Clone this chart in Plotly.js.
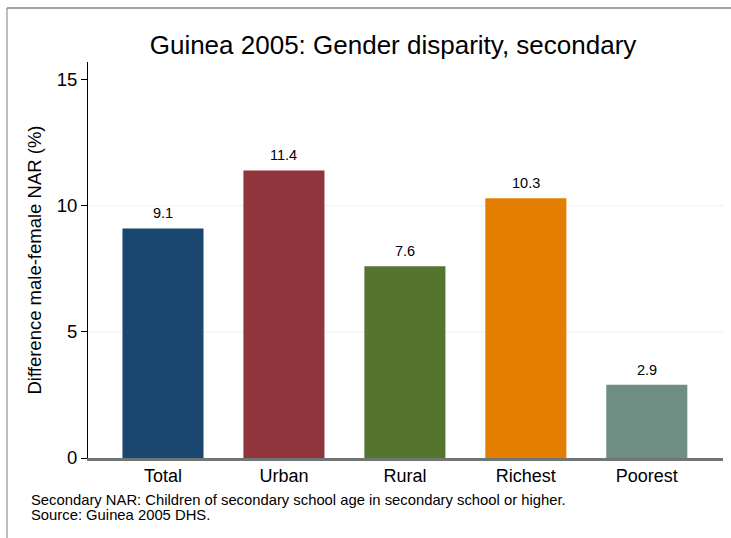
<!DOCTYPE html>
<html>
<head>
<meta charset="utf-8">
<script src="https://cdn.plot.ly/plotly-3.0.1.min.js"></script>
<style>html,body{margin:0;padding:0;background:#fff;}#chart{width:731px;height:538px;}</style>
</head>
<body>
<div id="chart"></div>
<script>
// Data
const categories = ["Total", "Urban", "Rural", "Richest", "Poorest"];
const values = [9.1, 11.4, 7.6, 10.3, 2.9];
const barColors = ["#1a476f", "#90353b", "#55752f", "#e37e00", "#6e8e84"];
const yTicks = [0, 5, 10, 15];
const gridVals = [5, 10];
const titleText = "Guinea 2005: Gender disparity, secondary";
const yTitleText = "Difference male-female NAR (%)";
const noteLines = ["Secondary NAR: Children of secondary school age in secondary school or higher.", "Source: Guinea 2005 DHS."];

const FONT = "Liberation Sans, Arial, Helvetica, sans-serif";
const xIdx = categories.map((c, i) => i);

const trace = {
  type: "bar",
  x: xIdx,
  y: values,
  marker: { color: barColors, line: { width: 0 } },
  hoverinfo: "skip"
};

const shapes = gridVals.map(g => ({
  type: "line", xref: "paper", yref: "y", x0: 0, x1: 1, y0: g, y1: g,
  line: { color: "#eaf2f3", width: 1 }, layer: "below"
}));
// outer frame (top and left edges)
shapes.push({ type: "line", xref: "paper", yref: "paper", x0: -0.1276, x1: 1.02, y0: 1.1364, y1: 1.1364, line: { color: "#444", width: 1 } });
shapes.push({ type: "line", xref: "paper", yref: "paper", x0: -0.1276, x1: -0.1276, y0: 1.1364, y1: -0.25, line: { color: "#7a7a7a", width: 1 } });

const annotations = values.map((v, i) => ({
  xref: "x", yref: "y", x: xIdx[i], y: v,
  xanchor: "center", yanchor: "bottom", yshift: 5,
  text: v.toFixed(1), showarrow: false,
  font: { family: FONT, size: 14.5, color: "#000" }
}));
const noteTops = [490, 505];
noteLines.forEach((t, i) => annotations.push({
  xref: "paper", yref: "paper",
  x: (29 - 88) / 635, xanchor: "left",
  y: (458 - noteTops[i]) / 396, yanchor: "top",
  text: t, align: "left", showarrow: false,
  font: { family: FONT, size: 14.8, color: "#000" }
}));

const layout = {
  width: 731, height: 538,
  margin: { l: 88, r: 8, t: 62, b: 80 },
  paper_bgcolor: "#fff", plot_bgcolor: "#fff",
  font: { family: FONT, color: "#000" },
  showlegend: false,
  bargap: 0.33,
  title: {
    text: titleText,
    font: { family: FONT, size: 26, color: "#000" },
    xref: "container", x: 393 / 731, xanchor: "center",
    yref: "container", y: 1 - 45 / 538, yanchor: "middle"
  },
  xaxis: {
    range: [-0.62, 4.63],
    tickmode: "array", tickvals: xIdx, ticktext: categories,
    ticks: "", showgrid: false, zeroline: false,
    showline: true, linecolor: "#6f7675", linewidth: 2.5,
    tickfont: { family: FONT, size: 18, color: "#000" },
    fixedrange: true
  },
  yaxis: {
    range: [0, 15.7],
    tickmode: "array", tickvals: yTicks,
    ticks: "outside", ticklen: 6, tickcolor: "#000", tickwidth: 1,
    showline: true, linecolor: "#000", linewidth: 1,
    showgrid: false, zeroline: false,
    tickfont: { family: FONT, size: 18.5, color: "#000" },
    title: { text: yTitleText, font: { family: FONT, size: 18.5, color: "#000" }, standoff: 10 },
    fixedrange: true
  },
  shapes: shapes,
  annotations: annotations
};

Plotly.newPlot("chart", [trace], layout, { displayModeBar: false, staticPlot: true });
</script>
</body>
</html>
